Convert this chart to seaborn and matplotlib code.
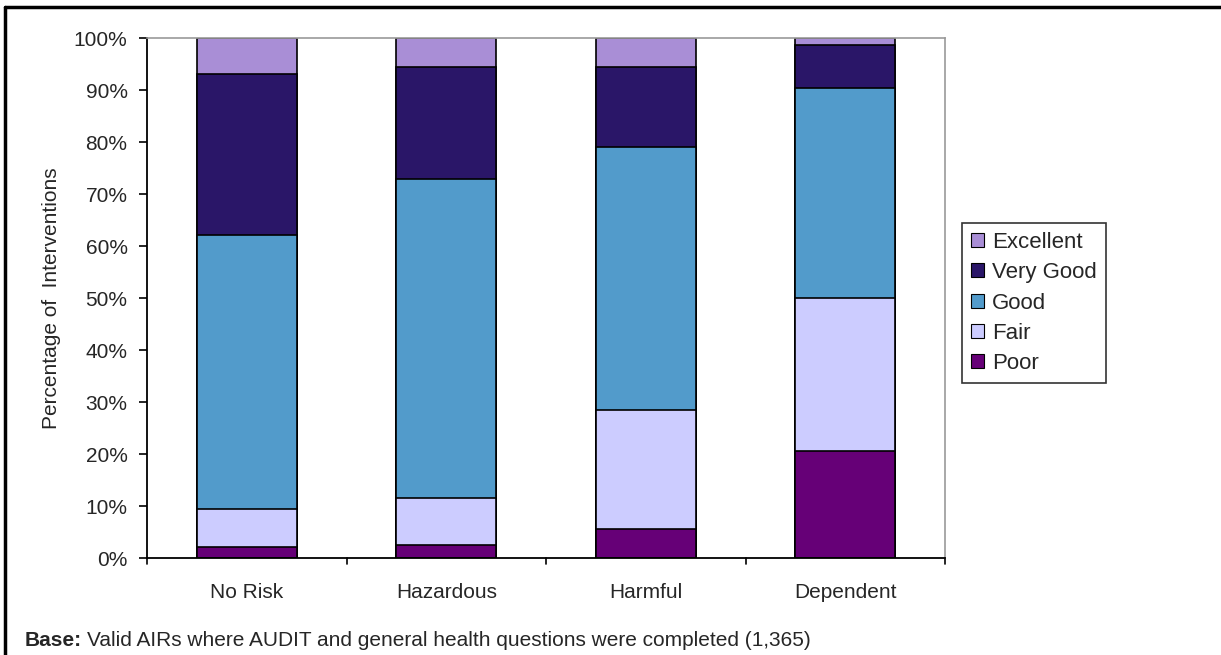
import numpy as np
import pandas as pd
import matplotlib
matplotlib.use("Agg")
import matplotlib.pyplot as plt
import seaborn as sns
from matplotlib.patches import Patch

categories = ["No Risk", "Hazardous", "Harmful", "Dependent"]
levels = ["Poor", "Fair", "Good", "Very Good", "Excellent"]
poor = [2.2, 2.5, 5.5, 20.5]
fair = [7.3, 9.0, 22.9, 29.5]
good = [52.6, 61.3, 50.7, 40.4]
very_good = [30.9, 21.6, 15.3, 8.3]
excellent = [7.0, 5.6, 5.6, 1.3]
colors = {"Poor": "#660077", "Fair": "#CCCCFF", "Good": "#529BCB",
          "Very Good": "#2A1668", "Excellent": "#A98ED6"}

df = pd.DataFrame({"Poor": poor, "Fair": fair, "Good": good,
                   "Very Good": very_good, "Excellent": excellent},
                  index=categories)
cum = df[levels].cumsum(axis=1)

sns.set_style("white")
plt.rcParams['font.family'] = ['Liberation Sans', 'DejaVu Sans']

FS = 15
fig = plt.figure(figsize=(12.21, 6.55), dpi=100)
ax = fig.add_axes([147 / 1221, 1 - 558 / 655, (945 - 147) / 1221, (558 - 38) / 655])

# draw stacked bars top-down so each shorter cumulative bar covers the one below
for lvl in reversed(levels):
    sns.barplot(x=categories, y=cum[lvl].values, color=colors[lvl], width=0.5,
                edgecolor="black", linewidth=1.2, saturation=1, ax=ax)

ax.set_xlim(-0.5, 3.5)
ax.set_ylim(0, 100)
ax.set_yticks(np.arange(0, 101, 10))
ax.set_yticklabels([f"{v}%" for v in range(0, 101, 10)], fontsize=FS)
ax.set_xticks(range(4))
ax.set_xticklabels(categories, fontsize=FS)
ax.tick_params(axis="x", length=0, pad=18)
ax.tick_params(axis="y", direction="out", length=6, width=1.2, color="black", left=True, pad=8)
for xb in [-0.5, 0.5, 1.5, 2.5, 3.5]:
    ax.plot([xb, xb], [0, -1.1], color="black", lw=1.2, clip_on=False)

ax.set_ylabel("Percentage of  Interventions", fontsize=FS, labelpad=9)
ax.set_xlabel("")
for side in ["top", "right"]:
    ax.spines[side].set_color("#999999")
    ax.spines[side].set_linewidth(1.2)
for side in ["left", "bottom"]:
    ax.spines[side].set_color("black")
    ax.spines[side].set_linewidth(1.3)

handles = [Patch(facecolor=colors[l], edgecolor="black", linewidth=0.8, label=l)
           for l in reversed(levels)]
leg = fig.legend(handles=handles, loc="upper left", bbox_to_anchor=(962 / 1221, 1 - 223 / 655),
                 fontsize=16, frameon=True, fancybox=False, edgecolor="black",
                 handlelength=0.6, handleheight=0.6, handletextpad=0.35,
                 labelspacing=0.42, borderpad=0.4, borderaxespad=0)
leg.get_frame().set_linewidth(1.2)

# outer frame (top and left edges visible)
fig.add_artist(plt.Line2D([5 / 1221, 5 / 1221], [0, 1 - 7 / 655], color="black", lw=2.5))
fig.add_artist(plt.Line2D([5 / 1221, 1], [1 - 7 / 655, 1 - 7 / 655], color="black", lw=2.5))

# clipped title at the very top
fig.text(20 / 1221, 1 + 10 / 655, "Figure 4.12: Self-reported general health by AUDIT score",
         color="#5B3C8C", fontsize=16, fontweight="bold", fontstyle="italic", va="baseline")

base = fig.text(25 / 1221, 1 - 640 / 655, "Base:", fontsize=FS, fontweight="bold", va="center")
fig.canvas.draw()
bb = base.get_window_extent()
fig.text((bb.x1 + 5) / 1221, 1 - 640 / 655,
         "Valid AIRs where AUDIT and general health questions were completed (1,365)",
         fontsize=FS, va="center")

fig.savefig("out.png", dpi=100)
